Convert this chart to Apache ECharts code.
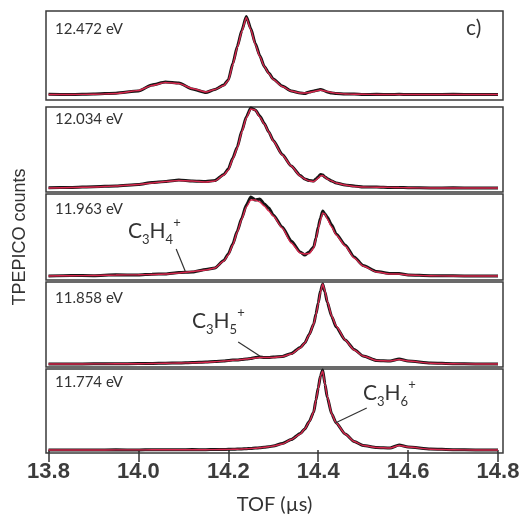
<!DOCTYPE html>
<html>
<head>
<meta charset="utf-8">
<script src="https://cdn.jsdelivr.net/npm/echarts@6/dist/echarts.min.js"></script>
<style>
html, body { margin: 0; padding: 0; background: #fff; }
#main { width: 527px; height: 517px; }
</style>
</head>
<body>
<div id="main"></div>
<script>
// TOF sample points (µs)
var tof = [13.80,13.85,13.90,13.95,14.00,14.03,14.06,14.09,14.12,14.15,14.17,14.19,14.20,14.21,14.22,14.23,14.24,14.25,14.26,14.27,14.28,14.29,14.30,14.32,14.34,14.36,14.37,14.38,14.39,14.395,14.40,14.405,14.41,14.415,14.42,14.43,14.44,14.46,14.48,14.50,14.53,14.56,14.58,14.60,14.65,14.70,14.75,14.80];

// photon energies, top to bottom
var energies = ['12.472 eV', '12.034 eV', '11.963 eV', '11.858 eV', '11.774 eV'];

// measured TPEPICO counts (black) and fits (red), arbitrary units
var data12472 = [0.3,0,0.5,1.3,3.5,9.5,12.5,11.5,5.5,2,5,9.5,14.5,31,48,64,78,66,51,39,28,21.5,15.5,8.5,3.5,1.5,1,2.5,3.5,4,4.5,5,4.5,3.5,2.5,1.5,1,0.5,0.5,0,0.2,0,0.2,0,0,0.2,0,0];
var fit12472  = [0,0,0.3,1,4,9,12,11,6,2.5,5,9,14,30,47,63,77,65,50,38,28,21,15,8,3.5,1.5,1.5,2,3,3.5,4,4.5,4,3.5,3,2,1.2,0.5,0.3,0.2,0,0,0,0,0,0,0,0];

var data12034 = [0.2,0.5,1.3,2,3.5,5.5,6.5,8,7,6.5,7.5,13.5,19,30,41,57,71,80,78,72,64.5,56,47.5,33.5,22,12.5,9,7.5,7,9,11,13.5,13,11,9.5,7,5,3,2,1,1,0.5,0.5,0.3,0,0.2,0,0];
var fit12034  = [0,0.5,1,2,3.5,5,6.5,7.5,7,6,7,13,18,29,40,56,70,79,78,71,64,56,47,33,22,12,9,7,6.5,8,10,12,12.5,11,9,7,5,3,1.5,1,0.8,0.6,0.5,0.3,0,0,0,0];

var data11963 = [0,0.5,0.3,1.2,1,1.8,2,3.5,4,6.5,8,15.5,22,32,45,58,71,79,76,77,72,68,61,49,35,24,21,24,29,38,49,58,65,62,59,51,42,31,19,10.5,4.5,2.5,2.5,1,0.3,0.2,0,0];
var fit11963  = [0,0.3,0.5,1,1.3,1.5,2,3,4.5,6,8,15,21,31,44,57,69,76,76,74,70,65,60,48,33,23,22,22.5,28,37,47,56,63,62,57,49,41,30,18,10,4,2,2,1,0.3,0,0,0];

var data11858 = [0,0,0.2,0.2,0.5,0.5,0.8,1,1.5,2,2.5,3,3.5,4,4,4.5,5,5.5,6.5,7,6.5,6.5,7,7.5,10.5,16.5,21,29.5,40,50,61,73,80,72,62,47.5,37,24,14.5,8,3.5,3,5,3,1,0.3,0,0];
var fit11858  = [0,0,0.1,0.2,0.3,0.5,0.7,1,1.3,1.8,2.3,3,3.3,3.7,4,4.5,5,5.5,6,6.5,6.5,6.5,6.5,7.5,10,16,21,29,40,49,60,72,80,73,63,48,38,24,14,8,3.5,3,4.5,3,0.8,0.3,0,0];

var data11774 = [0,0,0,0.2,0,0.3,0.2,0.2,0.4,0.3,0.5,0.5,0.7,0.7,1,1,1.3,1.5,2,2.2,2.8,3.2,4,6.5,10.5,16.5,21,28.5,38,50,62,74,80,66,53,36,27,16,8.5,4.5,2.5,2,5,3,1,0.3,0,0];
var fit11774  = [0,0,0,0.1,0.1,0.2,0.2,0.2,0.3,0.3,0.4,0.5,0.6,0.7,0.8,1,1.2,1.5,1.8,2.2,2.7,3.2,4,6,10.5,16,21,28,38,50,61,74,79,66,54,36,27,16,8.5,4.5,2.5,2,4.5,3,0.8,0.3,0,0];

var measured = [data12472, data12034, data11963, data11858, data11774];
var fits = [fit12472, fit12034, fit11963, fit11858, fit11774];

// x-axis tick labels
var xTicks = [13.8, 14.0, 14.2, 14.4, 14.6, 14.8];

// fragment annotations: panel index, label, leader line start/end [tof, counts]
var fragPanel = [2, 3, 4];
var fragLabel = ['{n|C}{s|3}{n|H}{s|4}{p|+}', '{n|C}{s|3}{n|H}{s|5}{p|+}', '{n|C}{s|3}{n|H}{s|6}{p|+}'];
var fragFrom = [[14.084, 27], [14.222, 22], [14.508, 42]];
var fragTo = [[14.104, 5], [14.27, 8], [14.438, 27]];

// layout
var panelTop = [11, 107, 194, 282, 369];
var panelHeight = [89, 85, 86, 85, 84];
var yMin = [-5.5, -4, -4, -3, -3];
var yMax = [83.5, 81, 82, 82, 81];
var xMin = 13.7944, xMax = 14.8111;
var labelTop = [22, 112, 202, 291, 375];
var fragPos = [[128, 216], [192, 306], [363, 378]];

var grids = [], xAxes = [], yAxes = [], series = [], titles = [];

for (var i = 0; i < 5; i++) {
    grids.push({
        left: 46, right: 24, top: panelTop[i], height: panelHeight[i],
        show: true, borderColor: '#3a3a3a', borderWidth: 1.5, backgroundColor: 'transparent'
    });
    var last = (i === 4);
    xAxes.push({
        gridIndex: i, type: 'value', min: xMin, max: xMax,
        splitLine: { show: false },
        axisLine: { show: false },
        axisTick: { show: last, customValues: xTicks, length: 12, lineStyle: { color: '#333', width: 1.5 } },
        axisLabel: {
            show: last, customValues: xTicks, margin: 8,
            formatter: function (v) { return v.toFixed(1); },
            fontSize: 22, fontWeight: 'bold', color: '#3c3c3c', fontFamily: 'Liberation Sans'
        },
        name: last ? 'TOF (\u00b5s)' : '', nameLocation: 'middle', nameGap: 42,
        nameTextStyle: { fontSize: 20, color: '#333', fontFamily: 'Lato' }
    });
    yAxes.push({ gridIndex: i, type: 'value', min: yMin[i], max: yMax[i], show: false });

    var pts = tof.map(function (t, k) { return [t, measured[i][k]]; });
    var fpts = tof.map(function (t, k) { return [t, fits[i][k]]; });
    series.push({
        type: 'line', xAxisIndex: i, yAxisIndex: i, data: pts,
        showSymbol: false, smooth: 0.2, smoothMonotone: 'x',
        lineStyle: { color: '#151515', width: 3 }
    });
    var fitSeries = {
        type: 'line', xAxisIndex: i, yAxisIndex: i, data: fpts,
        showSymbol: false, smooth: 0.2, smoothMonotone: 'x',
        lineStyle: { color: '#d8284e', width: 1.4 }
    };
    var f = fragPanel.indexOf(i);
    if (f >= 0) {
        fitSeries.markLine = {
            silent: true, symbol: 'none', label: { show: false },
            lineStyle: { color: '#333', width: 1.2, type: 'solid' },
            data: [[{ coord: fragFrom[f] }, { coord: fragTo[f] }]]
        };
        titles.push({
            text: fragLabel[f], left: fragPos[f][0], top: fragPos[f][1], padding: 0,
            textStyle: {
                fontWeight: 'normal',
                rich: {
                    n: { fontSize: 21, lineHeight: 30, fontWeight: 'normal', color: '#333', fontFamily: 'Lato' },
                    s: { fontSize: 13, lineHeight: 12, fontWeight: 'normal', color: '#333', fontFamily: 'Lato', verticalAlign: 'bottom' },
                    p: { fontSize: 13, lineHeight: 22, fontWeight: 'normal', color: '#333', fontFamily: 'Lato', verticalAlign: 'top' }
                }
            }
        });
    }
    series.push(fitSeries);

    titles.push({
        text: energies[i], left: 55, top: labelTop[i], padding: 0,
        textStyle: { fontSize: 15, fontWeight: 'normal', color: '#333', fontFamily: 'Lato' }
    });
}

titles.push({
    text: 'c)', left: 466, top: 18, padding: 0,
    textStyle: { fontSize: 21, fontWeight: 'normal', color: '#333', fontFamily: 'Lato' }
});

var myChart = echarts.init(document.getElementById('main'));

var option = {
    animation: false,
    backgroundColor: '#fff',
    title: titles,
    grid: grids,
    xAxis: xAxes,
    yAxis: yAxes,
    series: series,
    graphic: [{
        type: 'text', x: 20, y: 237, rotation: Math.PI / 2,
        style: {
            text: 'TPEPICO counts', align: 'center', verticalAlign: 'middle',
            font: '18px "Liberation Sans"', fill: '#333'
        }
    }]
};

myChart.setOption(option);
</script>
</body>
</html>
